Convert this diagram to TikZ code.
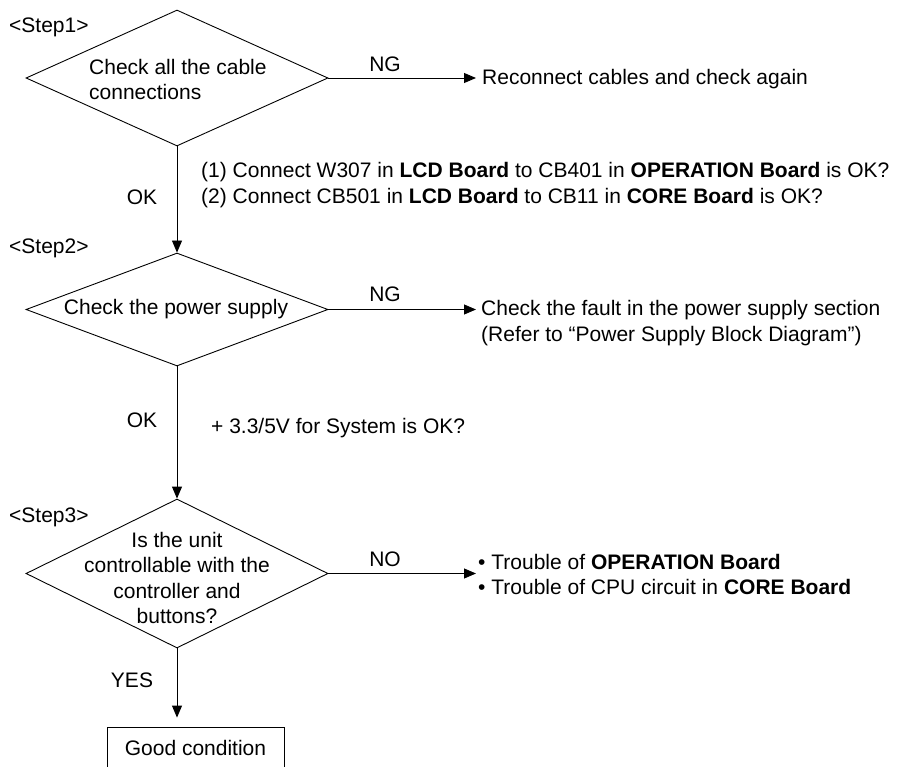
\documentclass[tikz,border=0pt]{standalone}
\usepackage{fontspec}
\setmainfont{Liberation Sans}
\usetikzlibrary{shapes.geometric,arrows.meta}
\begin{document}
\begin{tikzpicture}[x=1pt,y=-1pt,
  every node/.style={font=\fontsize{21pt}{25.5pt}\selectfont, inner sep=0pt},
  dec/.style={draw, diamond, line width=0.9pt, inner sep=0pt, minimum width=302pt},
  conn/.style={draw, line width=0.9pt, -{Triangle[length=12pt,width=10pt]}},
  box/.style={draw, line width=0.9pt, minimum width=177pt, minimum height=42pt, inner sep=0pt}
]
\useasboundingbox (0,0) rectangle (908,767);

% Step 1
\node[anchor=west] (s1) at (9,27) {<Step1>};
\node[dec, minimum height=136pt] (d1) at (177,78) {};
\node[anchor=west, align=left] (t1) at (89,79.5) {Check all the cable\\connections};
\node (ng1) at (385,64) {NG};
\coordinate (e1) at (476,78);
\node[anchor=west] (r1) at (482,79) {Reconnect cables and check again};
\node[anchor=west, align=left] (n1) at (201,185) {(1) Connect W307 in \textbf{LCD Board} to CB401 in \textbf{OPERATION Board} is OK?\\(2) Connect CB501 in \textbf{LCD Board} to CB11 in \textbf{CORE Board} is OK?};
\node (ok1) at (142,197) {OK};

% Step 2
\node[anchor=west] (s2) at (9,248) {<Step2>};
\node[dec, minimum height=113pt] (d2) at (177,309.5) {};
\node (t2) at (176,309.5) {Check the power supply};
\node (ng2) at (385,294) {NG};
\coordinate (e2) at (476,309.5);
\node[anchor=west, align=left] (r2) at (481,323) {Check the fault in the power supply section\\(Refer to “Power Supply Block Diagram”)};
\node (ok2) at (142,420) {OK};
\node[anchor=west] (v2) at (211,428) {+ 3.3/5V for System is OK?};

% Step 3
\node[anchor=west] (s3) at (9,517) {<Step3>};
\node[dec, minimum height=149pt] (d3) at (177,573.5) {};
\node[align=center] (t3) at (177,578) {Is the unit\\controllable with the\\controller and\\buttons?};
\node (no3) at (385,559) {NO};
\coordinate (e3) at (476,573.5);
\node[anchor=west, align=left] (r3) at (478,574.5) {• Trouble of \textbf{OPERATION Board}\\• Trouble of CPU circuit in \textbf{CORE Board}};
\node (yes) at (132,680) {YES};
\node[box] (good) at (195.5,748) {Good condition};

% connectors
\draw[conn] (d1.east) -- (e1);
\draw[conn] (d2.east) -- (e2);
\draw[conn] (d3.east) -- (e3);
\draw[conn] (d1.south) -- (d2.north);
\draw[conn] (d2.south) -- (d3.north);
\draw[conn, shorten >=9pt] (d3.south) -- (d3.south |- good.north);
\end{tikzpicture}
\end{document}
